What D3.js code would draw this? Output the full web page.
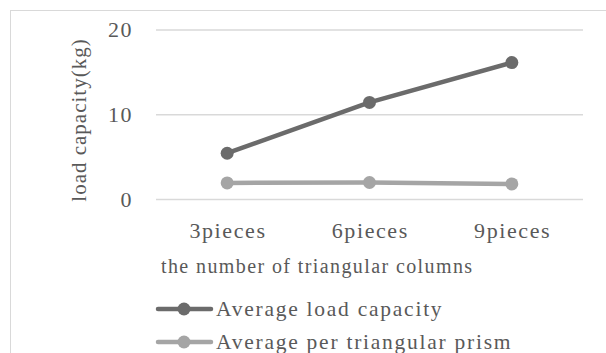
<!DOCTYPE html>
<html>
<head>
<meta charset="utf-8">
<script src="https://cdn.jsdelivr.net/npm/d3@7"></script>
<style>
  html, body { margin: 0; padding: 0; background: #fff; }
  svg { display: block; }
  text { font-family: "Liberation Serif", "Times New Roman", serif; fill: #595959; }
</style>
</head>
<body>
<svg id="chart" width="606" height="353"></svg>
<script>
// Chart data
const categories = ["3pieces", "6pieces", "9pieces"];
const avgLoad = [5.4, 11.4, 16.1];
const avgPerPrism = [1.9, 1.95, 1.78];
const seriesNames = ["Average load capacity", "Average per triangular prism"];
const seriesColors = ["#6b6b6b", "#a5a5a5"];
const yTicks = [0, 10, 20];

const svg = d3.select("#chart");

// Chart area frame
svg.append("rect")
  .attr("x", 10.5).attr("y", 10.5)
  .attr("width", 800).attr("height", 800)
  .attr("fill", "none").attr("stroke", "#d9d9d9").attr("stroke-width", 1);

const plot = { left: 156, right: 583, top: 29.5, bottom: 199 };

const x = d3.scaleBand().domain(categories).range([plot.left, plot.right]);
const y = d3.scaleLinear().domain([0, 20]).range([plot.bottom, plot.top]);

// Horizontal gridlines + y tick labels
const yAxis = d3.axisLeft(y).tickValues(yTicks).tickSize(plot.left - plot.right).tickPadding(23);
const gy = svg.append("g").attr("transform", `translate(${plot.left},0)`).call(yAxis);
gy.select(".domain").remove();
gy.selectAll(".tick line").attr("stroke", "#d9d9d9").attr("stroke-width", 1.5);
gy.selectAll(".tick text")
  .attr("x", -23)
  .attr("font-size", 22).attr("letter-spacing", 1.5).attr("dy", "0.33em")
  .style("font-family", "Liberation Serif").attr("fill", "#595959");

// Category labels
const xAxis = d3.axisBottom(x).tickSize(0).tickPadding(0);
const gx = svg.append("g").attr("transform", `translate(0,${plot.bottom})`).call(xAxis);
gx.select(".domain").remove();
gx.selectAll(".tick text")
  .attr("font-size", 22).attr("letter-spacing", 1.6)
  .attr("y", 39).attr("dy", 0).attr("dx", "0.8")
  .style("font-family", "Liberation Serif").attr("fill", "#595959");

// Axis titles
svg.append("text")
  .attr("x", 161).attr("y", 273)
  .attr("font-size", 20).attr("letter-spacing", 1.4)
  .text("the number of triangular columns");

svg.append("text")
  .attr("transform", "translate(86,120) rotate(-90)")
  .attr("text-anchor", "middle")
  .attr("font-size", 21).attr("letter-spacing", 1.0)
  .text("load capacity(kg)");

// Series lines and markers
const series = [avgLoad, avgPerPrism];
const line = d3.line()
  .x((d, i) => x(categories[i]) + x.bandwidth() / 2)
  .y(d => y(d));

series.slice().reverse().forEach((vals, ri) => {
  const si = series.length - 1 - ri;
  const g = svg.append("g");
  g.append("path").datum(vals)
    .attr("d", line)
    .attr("fill", "none")
    .attr("stroke", seriesColors[si])
    .attr("stroke-width", 4.5)
    .attr("stroke-linejoin", "round")
    .attr("stroke-linecap", "round");
  g.selectAll("circle").data(vals).join("circle")
    .attr("cx", (d, i) => x(categories[i]) + x.bandwidth() / 2)
    .attr("cy", d => y(d))
    .attr("r", 6.5)
    .attr("fill", seriesColors[si]);
});

// Legend
const legend = svg.append("g");
seriesNames.forEach((name, i) => {
  const ly = 309 + i * 33;
  legend.append("line")
    .attr("x1", 158).attr("x2", 211).attr("y1", ly).attr("y2", ly)
    .attr("stroke", seriesColors[i]).attr("stroke-width", 4.5).attr("stroke-linecap", "round");
  legend.append("circle")
    .attr("cx", 184).attr("cy", ly).attr("r", 6.5).attr("fill", seriesColors[i]);
  legend.append("text")
    .attr("x", 216).attr("y", ly + 7)
    .attr("font-size", 21.5).attr("letter-spacing", 1.75)
    .text(name);
});
</script>
</body>
</html>
